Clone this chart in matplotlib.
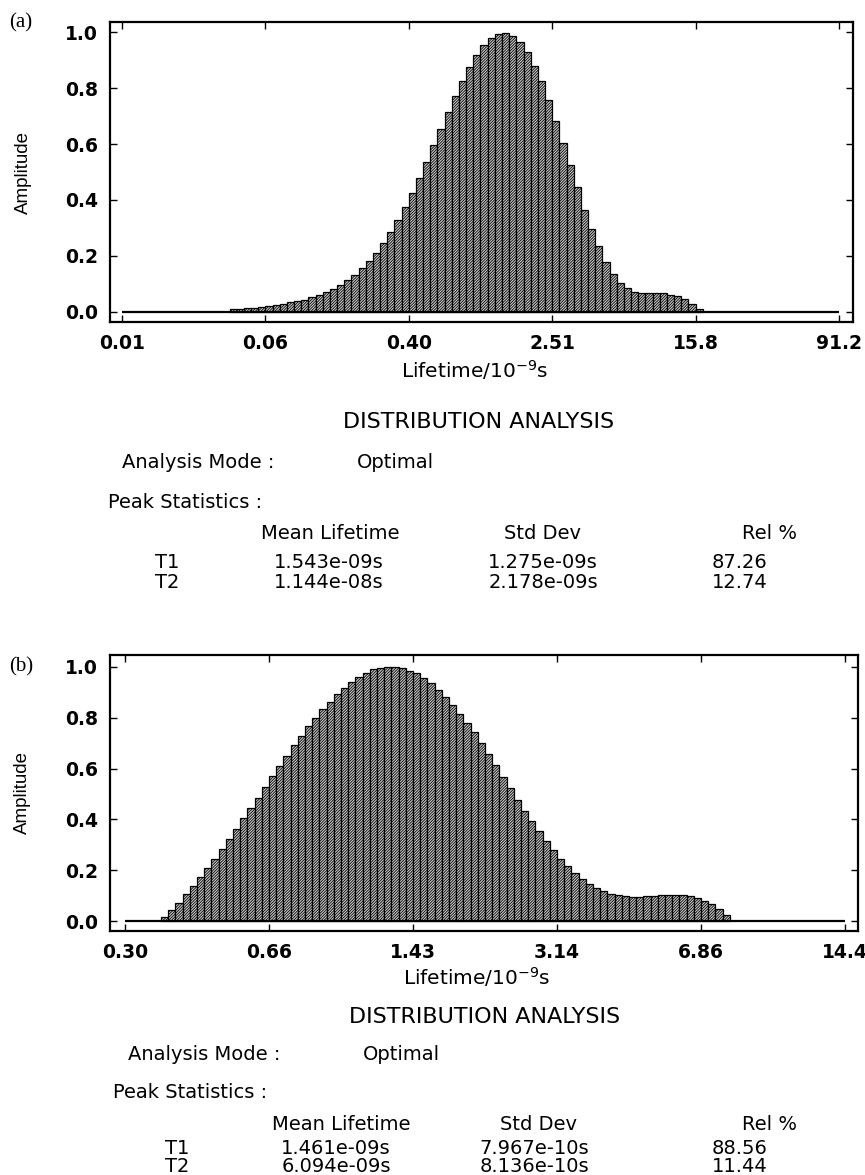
import matplotlib
matplotlib.use("Agg")
import matplotlib.pyplot as plt
import numpy as np

plt.rcParams['hatch.linewidth'] = 0.6
plt.rcParams['font.family'] = ['DejaVu Sans']

W, H = 865, 1175

# ---------------- data ----------------
bins_per_tick = 20
y_ticks = [0.0, 0.2, 0.4, 0.6, 0.8, 1.0]
y_tick_labels = ['0.0', '0.2', '0.4', '0.6', '0.8', '1.0']

tick_labels_a = ['0.01', '0.06', '0.40', '2.51', '15.8', '91.2']
first_bin_a = 15
amplitude_a = [0.011, 0.012, 0.013, 0.015, 0.019, 0.021, 0.025, 0.030, 0.035, 0.038,
               0.044, 0.052, 0.061, 0.071, 0.083, 0.098, 0.114, 0.133, 0.157, 0.183,
               0.212, 0.246, 0.286, 0.327, 0.374, 0.424, 0.480, 0.535, 0.595, 0.655,
               0.715, 0.771, 0.824, 0.875, 0.918, 0.955, 0.979, 0.992, 0.995, 0.985,
               0.963, 0.929, 0.880, 0.825, 0.756, 0.682, 0.605, 0.526, 0.445, 0.366,
               0.297, 0.234, 0.178, 0.137, 0.105, 0.085, 0.072, 0.068, 0.067, 0.067,
               0.066, 0.062, 0.056, 0.046, 0.030, 0.011]

tick_labels_b = ['0.30', '0.66', '1.43', '3.14', '6.86', '14.4']
first_bin_b = 5
amplitude_b = [0.015, 0.044, 0.072, 0.106, 0.138, 0.173, 0.210, 0.246, 0.284, 0.322,
               0.363, 0.404, 0.446, 0.486, 0.528, 0.569, 0.609, 0.650, 0.691, 0.730,
               0.766, 0.801, 0.834, 0.864, 0.892, 0.919, 0.942, 0.960, 0.977, 0.990,
               0.996, 1.000, 0.999, 0.995, 0.986, 0.975, 0.958, 0.935, 0.911, 0.882,
               0.850, 0.816, 0.781, 0.743, 0.701, 0.656, 0.613, 0.567, 0.522, 0.478,
               0.433, 0.392, 0.353, 0.315, 0.278, 0.245, 0.217, 0.189, 0.167, 0.147,
               0.129, 0.117, 0.108, 0.101, 0.097, 0.096, 0.096, 0.097, 0.100, 0.101,
               0.104, 0.104, 0.102, 0.100, 0.091, 0.081, 0.066, 0.047, 0.025]

peaks = ['T1', 'T2']
mean_a = ['1.543e-09s', '1.144e-08s']
std_a = ['1.275e-09s', '2.178e-09s']
rel_a = ['87.26', '12.74']
mean_b = ['1.461e-09s', '6.094e-09s']
std_b = ['7.967e-10s', '8.136e-10s']
rel_b = ['88.56', '11.44']

x_title = 'Lifetime/10$^{-9}$s'
y_title = 'Amplitude'

# ---------------- figure ----------------
fig = plt.figure(figsize=(W / 100, H / 100), dpi=100)


def rect(l, t, r, b):
    return [l / W, 1 - b / H, (r - l) / W, (b - t) / H]


def ftext(px, py, s, **kw):
    kw.setdefault('va', 'center')
    fig.text(px / W, 1 - py / H, s, **kw)


def panel(r, first_bin, amps, xlabels, xlim, ylim, ylab_x, xlab_y):
    ax = fig.add_axes(r)
    x = first_bin + np.arange(len(amps))
    ax.bar(x, amps, width=1.0, align='edge', facecolor='#cdcdcd',
           edgecolor='black', linewidth=0.9, hatch='/' * 12, zorder=2)
    n = len(xlabels) - 1
    ax.hlines(0, 0, n * bins_per_tick, colors='black', linewidth=1.6, zorder=3)
    ax.set_xticks(np.arange(n + 1) * bins_per_tick)
    ax.set_xticklabels(xlabels)
    ax.set_yticks(y_ticks)
    ax.set_yticklabels(y_tick_labels)
    ax.set_xlim(*xlim)
    ax.set_ylim(*ylim)
    ax.tick_params(direction='in', top=True, right=True, length=5, width=1.0,
                   pad=8.5, labelsize=13.5)
    for lab in ax.get_xticklabels() + ax.get_yticklabels():
        lab.set_fontweight('bold')
    for sp in ax.spines.values():
        sp.set_linewidth(1.6)
    ax.set_ylabel(y_title, fontsize=13.5, family=['Liberation Sans', 'DejaVu Sans'])
    ax.yaxis.label.set_va('center')
    ax.yaxis.set_label_coords(ylab_x, 0.5)
    ax.set_xlabel(x_title, fontsize=14.5)
    ax.xaxis.label.set_va('center')
    ax.xaxis.set_label_coords(0.49, xlab_y)
    return ax


# top panel (a): frame 110..853 x 22..322
panel(rect(110, 22, 853, 322), first_bin_a, amplitude_a, tick_labels_a,
      (-1.67, 101.95), (-0.036, 1.036), (23 - 110) / 743, (322 - 370) / 300)
# bottom panel (b): frame 110..858 x 655..931
panel(rect(110, 655, 858, 931), first_bin_b, amplitude_b, tick_labels_b,
      (-2.08, 101.8), (-0.039, 1.047), (22 - 110) / 748, (931 - 977) / 276)

ftext(9, 23, '(a)', ha='left', fontsize=15, family=['Liberation Serif', 'DejaVu Serif'])
ftext(9, 667, '(b)', ha='left', fontsize=15, family=['Liberation Serif', 'DejaVu Serif'])


def stats(y_dist, y_mode, y_peak, y_head, y_rows, x_dist, x_mode, x_opt, x_peak,
          x_t, x_mean_h, x_std_h, x_mean, x_std, x_rel_h, x_rel, means, stds, rels):
    fs = 14
    ftext(x_dist, y_dist, 'DISTRIBUTION ANALYSIS', ha='center', fontsize=16)
    ftext(x_mode, y_mode, 'Analysis Mode :', ha='left', fontsize=fs)
    ftext(x_opt, y_mode, 'Optimal', ha='left', fontsize=fs)
    ftext(x_peak, y_peak, 'Peak Statistics :', ha='left', fontsize=fs)
    ftext(x_mean_h, y_head, 'Mean Lifetime', ha='center', fontsize=fs)
    ftext(x_std_h, y_head, 'Std Dev', ha='center', fontsize=fs)
    ftext(x_rel_h, y_head, 'Rel %', ha='left', fontsize=fs)
    for yy, p, m, s, rl in zip(y_rows, peaks, means, stds, rels):
        ftext(x_t, yy, p, ha='center', fontsize=fs)
        ftext(x_mean, yy, m, ha='center', fontsize=fs)
        ftext(x_std, yy, s, ha='center', fontsize=fs)
        ftext(x_rel, yy, rl, ha='left', fontsize=fs)


stats(422, 462, 502, 534, (562, 582), 479, 122, 357, 108,
      167, 330, 543, 329, 543, 742, 712, mean_a, std_a, rel_a)
stats(1017, 1055, 1093, 1124, (1148, 1167), 485, 128, 363, 113,
      177, 341, 538, 336, 534, 742, 712, mean_b, std_b, rel_b)

fig.savefig('out.png', dpi=100)
